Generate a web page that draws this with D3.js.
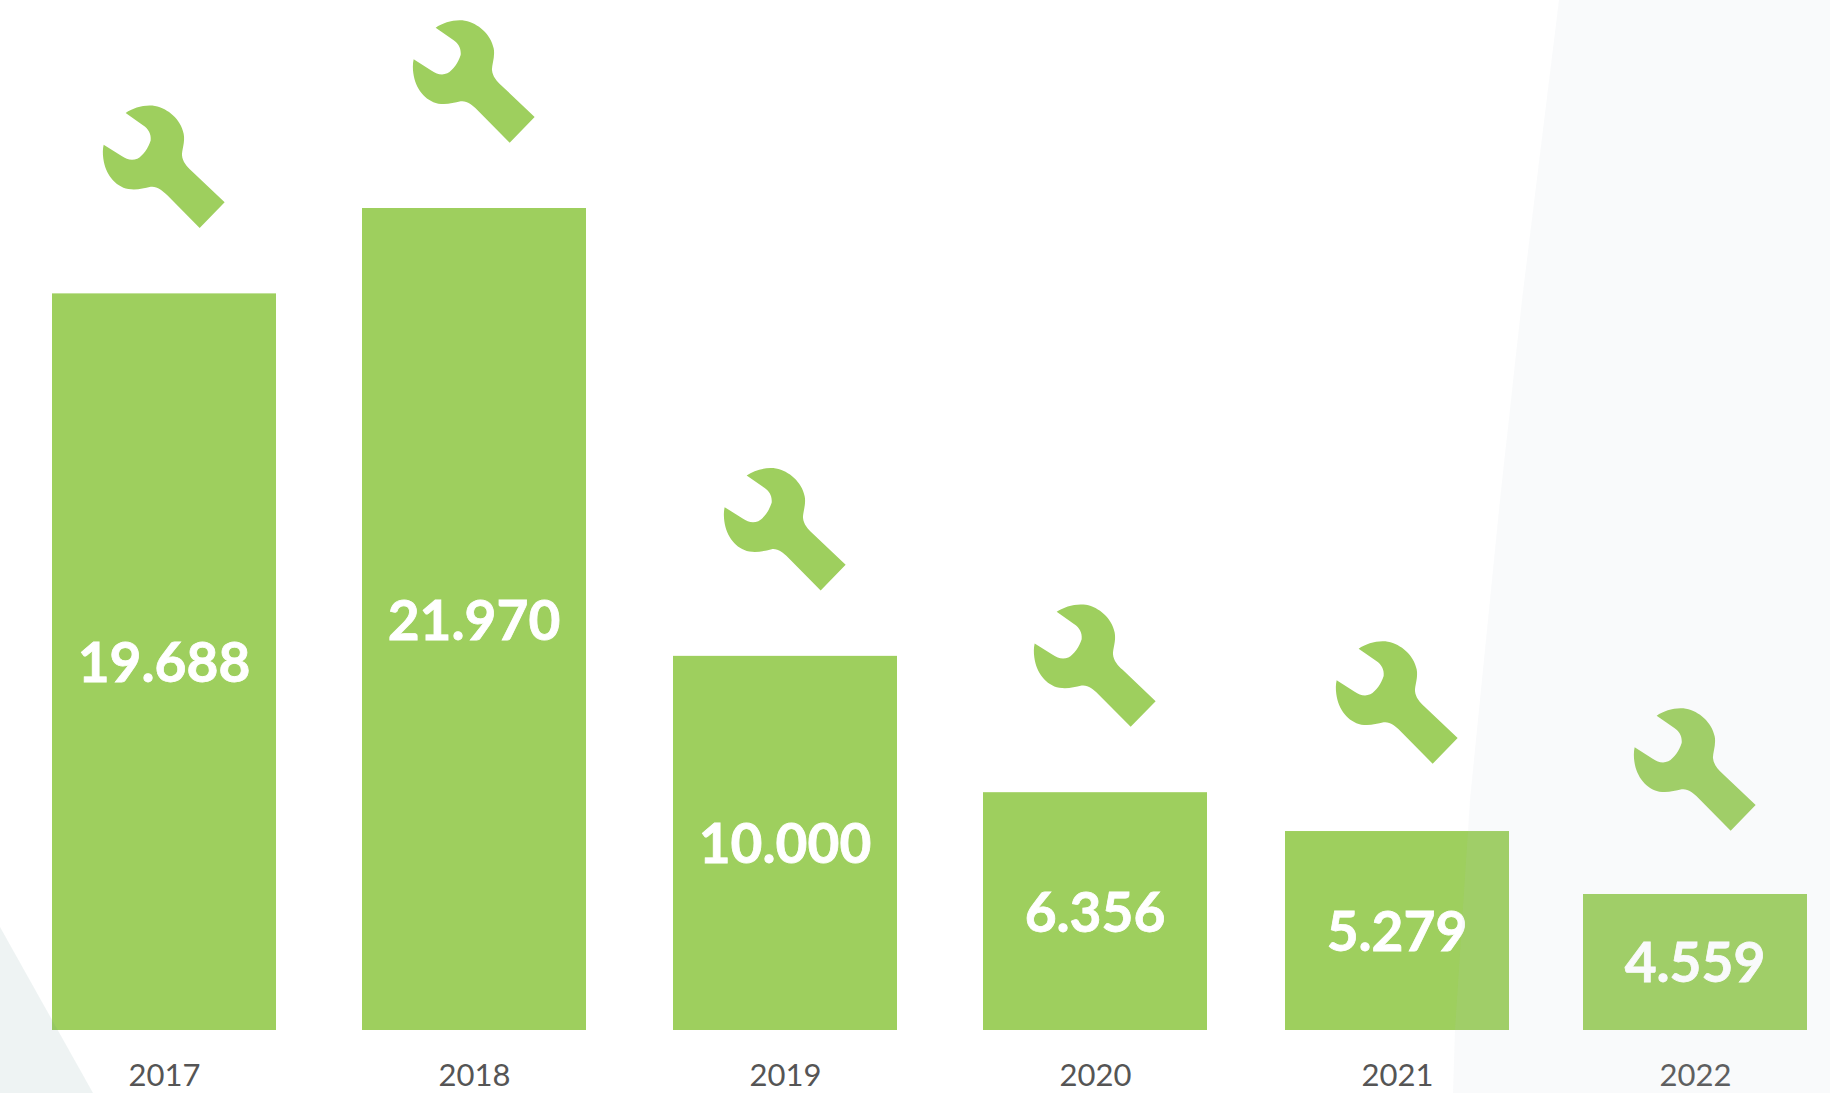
<!DOCTYPE html>
<html lang="en">

<head>
  <meta charset="utf-8">
  <title>Bars with wrenches</title>
  <script src="https://d3js.org/d3.v7.min.js"></script>
  <style>
    html, body { margin: 0; padding: 0; background: #fff; overflow: hidden; }
    svg { display: block; }
  </style>
</head>

<body>
  <div id="chart"></div>

  <script>
    var years = ["2017", "2018", "2019", "2020", "2021", "2022"];
    // printed numbers, as they stand on the bars
    var valueLabels = ["19.688", "21.970", "10.000", "6.356", "5.279", "4.559"];
    // bar lengths; the last bars are not drawn quite to the printed value
    var barLengths = [19688, 21970, 10000, 6356, 5318, 3635];

    var width = 1830, height = 1093;
    var baseline = 1030, barWidth = 224;

    var x = d3.scaleOrdinal().domain(years).range([164, 474, 785, 1095, 1397, 1695]);
    var y = d3.scaleLinear().domain([0, 21970]).range([baseline, 208]);

    var svg = d3.select("#chart").append("svg")
      .attr("width", width)
      .attr("height", height);

    // Bars
    svg.append("g").selectAll("rect").data(years).enter()
      .append("rect")
      .attr("x", d => x(d) - barWidth / 2)
      .attr("y", (d, i) => y(barLengths[i]))
      .attr("width", barWidth)
      .attr("height", (d, i) => baseline - y(barLengths[i]))
      .attr("fill", "#9ecf5e");

    // Wrench icon, traced at 3x
    var wrench = "M137,68 C160,52 195,42 225,47 C264,54 303,88 311,130 C316,155 305,180 306,195 " +
      "C308,215 320,228 335,242 L434,336 L359,413 L262,315 C245,298 232,287 212,289 " +
      "C190,294 170,300 145,296 C105,288 76,250 70,205 C68,190 68,175 71,163 L125,197 " +
      "C140,207 155,212 172,205 C190,195 205,172 212,150 C214,130 205,115 190,105 Z";
    var iconNudge = [0, 0, 0, 0, -2, 2];

    svg.append("g").selectAll("path").data(years).enter()
      .append("path")
      .attr("d", wrench)
      .attr("fill", "#9ecf5e")
      .attr("transform", (d, i) => "translate(" + (x(d) - 84) + "," + (y(barLengths[i]) - 203 + iconNudge[i]) + ") scale(0.3333)");

    // Numbers inside the bars
    svg.append("g").selectAll("text").data(years).enter()
      .append("text")
      .attr("x", d => x(d))
      .attr("y", (d, i) => (y(barLengths[i]) + baseline) / 2 + 20.5)
      .attr("text-anchor", "middle")
      .attr("font-family", "Lato")
      .attr("font-weight", 700)
      .attr("font-size", 55)
      .attr("fill", "#fff")
      .attr("stroke", "#fff")
      .attr("stroke-width", 0.8)
      .text((d, i) => valueLabels[i]);

    // Year axis
    var axis = svg.append("g")
      .attr("transform", "translate(0," + baseline + ")")
      .call(d3.axisBottom(x).tickSize(0).tickPadding(34));
    axis.select(".domain").remove();
    axis.selectAll("text")
      .attr("font-family", "Lato")
      .attr("font-size", 31)
      .attr("fill", "#555");

    // Pale background shapes lie over the chart, the bars show through them
    svg.append("polygon")
      .attr("points", "1559,0 1522,300 1500,500 1470,800 1455,1030 1453,1093 1830,1093 1830,0")
      .attr("fill", "rgb(185,205,215)")
      .attr("fill-opacity", 0.09);

    svg.append("polygon")
      .attr("points", "0,927 93,1093 0,1093")
      .attr("fill", "rgb(85,135,135)")
      .attr("fill-opacity", 0.1);
  </script>
</body>

</html>
